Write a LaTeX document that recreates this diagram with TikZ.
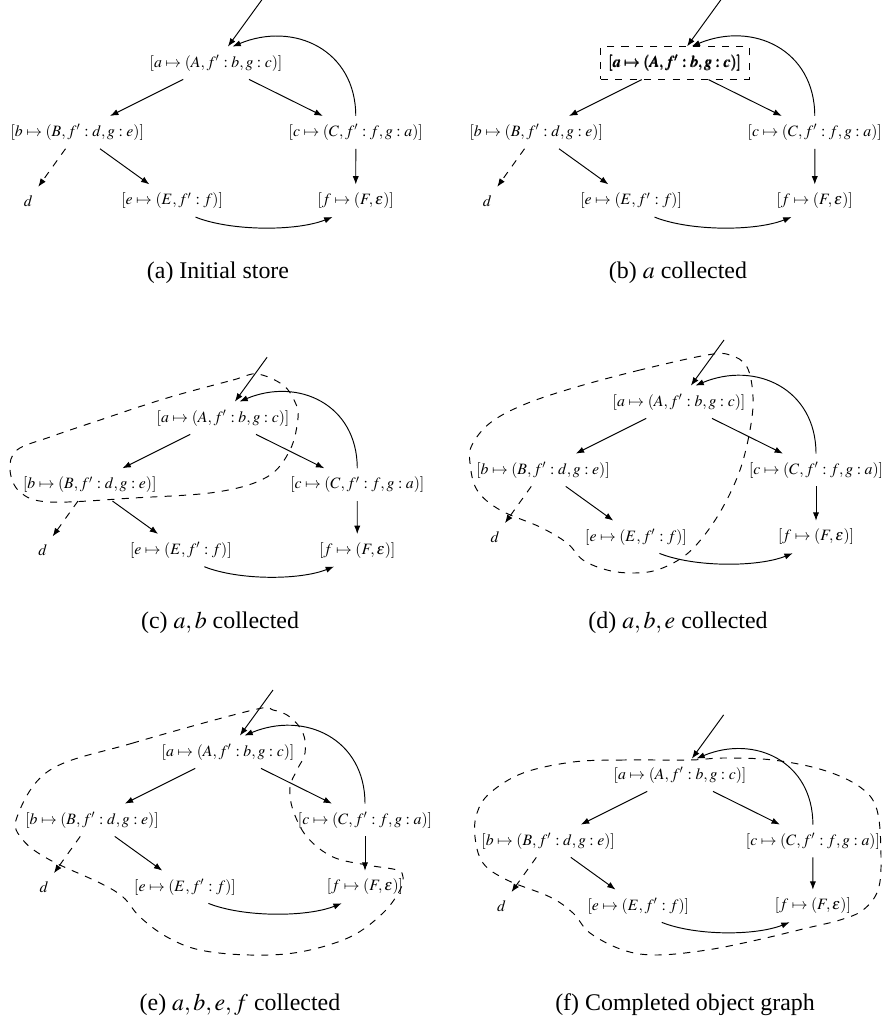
\documentclass[tikz,border=0pt]{standalone}
\usepackage{amsbsy}
\usepackage{mathptmx}
\usepackage[no-math]{fontspec}
\setmainfont{Liberation Serif}
\usetikzlibrary{arrows.meta}

\tikzset{
  cell/.style={inner sep=3.3pt,font=\fontsize{6.6}{8}\selectfont},
  ref/.style={-{Latex[length=3.5pt,width=2.6pt]}},
  hull/.style={dashed},
  caption/.style={font=\fontsize{10}{12}\selectfont}
}

% one copy of the store; #1 options of a, #2 wrapper of a's text
\newcommand\storegraph[2]{%
  \node[cell,#1] (a) at (0,0) {$#2{[a\mapsto(A,f':b,g:c)]}$};
  \node[cell] (b) at (-136,68) {$[b\mapsto(B,f':d,g:e)]$};
  \node[cell] (c) at (137,68) {$[c\mapsto(C,f':f,g:a)]$};
  \node[cell] (d) at (-184,135) {$d$};
  \node[cell] (e) at (-43,135) {$[e\mapsto(E,f':f)]$};
  \node[cell] (f) at (137,135) {$[f\mapsto(F,\varepsilon)]$};
  \coordinate (root) at (45,-62);
  \draw[ref] (root) -- (a);
  \draw[ref] (a) -- (b);
  \draw[ref] (a) -- (c);
  \draw[ref,dashed] (b) -- (d);
  \draw[ref] (b) -- (e);
  \draw[ref] (c) -- (f);
  \draw[ref] (e.-35) .. controls +(35,14) and +(-35,14) .. (f.-145);
  \draw[ref] (c.north) .. controls +(0,-65) and +(60,-25) .. (a.45);
}

\begin{document}
\begin{tikzpicture}[x=0.4184pt,y=-0.4184pt]
  \useasboundingbox (0,0) rectangle (883,1023);

  % (a)
  \begin{scope}[shift={(216,63)},scale=1.02,name prefix=A]
    \storegraph{}{}
  \end{scope}
  \node[caption] (capa) at (218,273) {(a) Initial store};

  % (b)
  \begin{scope}[shift={(675,63)},scale=1.02,name prefix=B]
    \storegraph{draw,dashed}{\pmb}
  \end{scope}
  \node[caption] (capb) at (678,273) {(b) $a$ collected};

  % (c)
  \begin{scope}[shift={(223,418)},scale=0.98,name prefix=C]
    \storegraph{}{}
  \end{scope}
  \draw[hull] plot[smooth cycle,tension=0.6] coordinates {
    (167,398) (233,380) (257,374) (283,385) (295,402) (298,418)
    (290,450) (267,477) (217,492) (133,498) (50,502) (20,492)
    (10,470) (17,450) (50,437) (100,420)};
  \node[caption] (capc) at (220,623) {(c) $a,b$ collected};

  % (d)
  \begin{scope}[shift={(679,402)},name prefix=D]
    \storegraph{}{}
  \end{scope}
  \draw[hull] plot[smooth cycle,tension=0.6] coordinates {
    (707,355) (640,370) (573,388) (523,405) (490,423) (472,445)
    (470,463) (477,490) (500,510) (540,527) (567,543) (583,560)
    (607,570) (632,573) (657,570) (683,557) (703,537) (723,507)
    (740,470) (750,430) (753,397) (747,367) (730,355)};
  \node[caption] (capd) at (678,623) {(d) $a,b,e$ collected};

  % (e)
  \begin{scope}[shift={(228,752)},name prefix=E]
    \storegraph{}{}
  \end{scope}
  \draw[hull] plot[smooth cycle,tension=0.6] coordinates {
    (253,710) (133,743) (50,770) (17,817) (23,840) (50,860)
    (100,883) (123,897) (140,917) (167,937) (200,950) (250,955)
    (300,952) (350,937) (383,913) (400,890) (403,877) (397,870)
    (367,865) (333,857) (307,837) (293,810) (290,787) (297,770)
    (305,753) (303,733) (290,717) (273,710)};
  \node[caption] (cape) at (240,1005) {(e) $a,b,e,f$ collected};

  % (f)
  \begin{scope}[shift={(680,775)},scale=0.97,name prefix=F]
    \storegraph{}{}
  \end{scope}
  \draw[hull] plot[smooth cycle,tension=0.6] coordinates {
    (690,760) (623,760) (573,762) (523,773) (490,793) (477,813)
    (475,837) (483,863) (507,880) (550,897) (573,913) (590,933)
    (623,950) (657,955) (707,950) (757,940) (807,928) (840,920)
    (863,910) (878,890) (881,857) (877,810) (860,787) (823,770)
    (773,760) (723,758)};
  \node[caption] (capf) at (685,1005) {(f) Completed object graph};
\end{tikzpicture}
\end{document}
